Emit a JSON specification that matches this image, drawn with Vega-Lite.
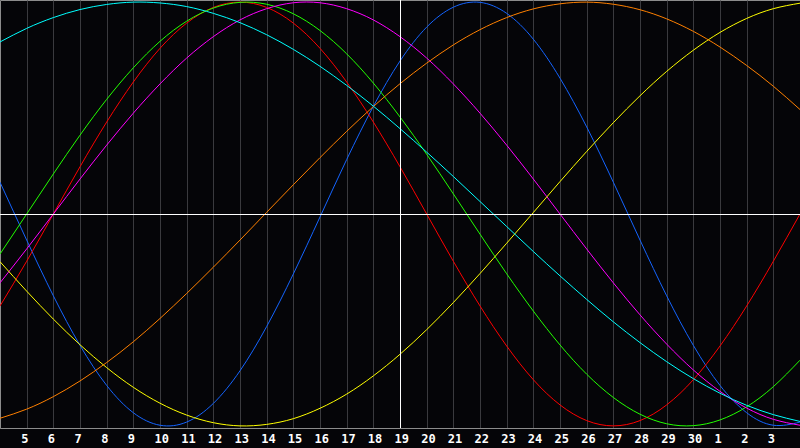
{
"$schema":"https://vega.github.io/schema/vega-lite/v6.json",
"width":800,"height":428,"autosize":"none","padding":{"left":0,"top":0,"right":0,"bottom":20},
"background":"#050508",
"config":{"view":{"stroke":"#8c8c8c","strokeWidth":1}},
"layer":[
{"data":{"values":[
{"t":0,"c":"phy","v":0.150},{"t":1,"c":"phy","v":-0.123},{"t":2,"c":"phy","v":-0.386},{"t":3,"c":"phy","v":-0.620},{"t":4,"c":"phy","v":-0.809},{"t":5,"c":"phy","v":-0.938},{"t":6,"c":"phy","v":-0.997},{"t":7,"c":"phy","v":-0.982},{"t":8,"c":"phy","v":-0.894},{"t":9,"c":"phy","v":-0.740},{"t":10,"c":"phy","v":-0.531},{"t":11,"c":"phy","v":-0.283},{"t":12,"c":"phy","v":-0.014},{"t":13,"c":"phy","v":0.257},{"t":14,"c":"phy","v":0.508},{"t":15,"c":"phy","v":0.722},{"t":16,"c":"phy","v":0.882},{"t":17,"c":"phy","v":0.976},{"t":18,"c":"phy","v":0.999},{"t":19,"c":"phy","v":0.947},{"t":20,"c":"phy","v":0.825},{"t":21,"c":"phy","v":0.641},{"t":22,"c":"phy","v":0.411},{"t":23,"c":"phy","v":0.150},{"t":24,"c":"phy","v":-0.123},{"t":25,"c":"phy","v":-0.386},{"t":26,"c":"phy","v":-0.620},{"t":27,"c":"phy","v":-0.809},{"t":28,"c":"phy","v":-0.938},{"t":29,"c":"phy","v":-0.997},{"t":30,"c":"phy","v":-0.982},
{"t":0,"c":"emo","v":-0.434},{"t":1,"c":"emo","v":-0.223},{"t":2,"c":"emo","v":0},{"t":3,"c":"emo","v":0.223},{"t":4,"c":"emo","v":0.434},{"t":5,"c":"emo","v":0.623},{"t":6,"c":"emo","v":0.782},{"t":7,"c":"emo","v":0.901},{"t":8,"c":"emo","v":0.975},{"t":9,"c":"emo","v":1},{"t":10,"c":"emo","v":0.975},{"t":11,"c":"emo","v":0.901},{"t":12,"c":"emo","v":0.782},{"t":13,"c":"emo","v":0.623},{"t":14,"c":"emo","v":0.434},{"t":15,"c":"emo","v":0.223},{"t":16,"c":"emo","v":0},{"t":17,"c":"emo","v":-0.223},{"t":18,"c":"emo","v":-0.434},{"t":19,"c":"emo","v":-0.623},{"t":20,"c":"emo","v":-0.782},{"t":21,"c":"emo","v":-0.901},{"t":22,"c":"emo","v":-0.975},{"t":23,"c":"emo","v":-1},{"t":24,"c":"emo","v":-0.975},{"t":25,"c":"emo","v":-0.901},{"t":26,"c":"emo","v":-0.782},{"t":27,"c":"emo","v":-0.623},{"t":28,"c":"emo","v":-0.434},{"t":29,"c":"emo","v":-0.223},{"t":30,"c":"emo","v":0},
{"t":0,"c":"int","v":-0.189},{"t":1,"c":"int","v":0},{"t":2,"c":"int","v":0.189},{"t":3,"c":"int","v":0.372},{"t":4,"c":"int","v":0.541},{"t":5,"c":"int","v":0.690},{"t":6,"c":"int","v":0.815},{"t":7,"c":"int","v":0.910},{"t":8,"c":"int","v":0.972},{"t":9,"c":"int","v":0.999},{"t":10,"c":"int","v":0.990},{"t":11,"c":"int","v":0.945},{"t":12,"c":"int","v":0.866},{"t":13,"c":"int","v":0.756},{"t":14,"c":"int","v":0.618},{"t":15,"c":"int","v":0.458},{"t":16,"c":"int","v":0.282},{"t":17,"c":"int","v":0.095},{"t":18,"c":"int","v":-0.095},{"t":19,"c":"int","v":-0.282},{"t":20,"c":"int","v":-0.458},{"t":21,"c":"int","v":-0.618},{"t":22,"c":"int","v":-0.756},{"t":23,"c":"int","v":-0.866},{"t":24,"c":"int","v":-0.945},{"t":25,"c":"int","v":-0.990},{"t":26,"c":"int","v":-0.999},{"t":27,"c":"int","v":-0.972},{"t":28,"c":"int","v":-0.910},{"t":29,"c":"int","v":-0.815},{"t":30,"c":"int","v":-0.690},
{"t":0,"c":"itu","v":-0.325},{"t":1,"c":"itu","v":-0.165},{"t":2,"c":"itu","v":0},{"t":3,"c":"itu","v":0.165},{"t":4,"c":"itu","v":0.325},{"t":5,"c":"itu","v":0.476},{"t":6,"c":"itu","v":0.614},{"t":7,"c":"itu","v":0.736},{"t":8,"c":"itu","v":0.837},{"t":9,"c":"itu","v":0.916},{"t":10,"c":"itu","v":0.969},{"t":11,"c":"itu","v":0.997},{"t":12,"c":"itu","v":0.997},{"t":13,"c":"itu","v":0.969},{"t":14,"c":"itu","v":0.916},{"t":15,"c":"itu","v":0.837},{"t":16,"c":"itu","v":0.736},{"t":17,"c":"itu","v":0.614},{"t":18,"c":"itu","v":0.476},{"t":19,"c":"itu","v":0.325},{"t":20,"c":"itu","v":0.165},{"t":21,"c":"itu","v":0},{"t":22,"c":"itu","v":-0.165},{"t":23,"c":"itu","v":-0.325},{"t":24,"c":"itu","v":-0.476},{"t":25,"c":"itu","v":-0.614},{"t":26,"c":"itu","v":-0.736},{"t":27,"c":"itu","v":-0.837},{"t":28,"c":"itu","v":-0.916},{"t":29,"c":"itu","v":-0.969},{"t":30,"c":"itu","v":-0.997},
{"t":0,"c":"aes","v":-0.225},{"t":1,"c":"aes","v":-0.364},{"t":2,"c":"aes","v":-0.496},{"t":3,"c":"aes","v":-0.617},{"t":4,"c":"aes","v":-0.725},{"t":5,"c":"aes","v":-0.818},{"t":6,"c":"aes","v":-0.893},{"t":7,"c":"aes","v":-0.949},{"t":8,"c":"aes","v":-0.985},{"t":9,"c":"aes","v":-1.000},{"t":10,"c":"aes","v":-0.993},{"t":11,"c":"aes","v":-0.966},{"t":12,"c":"aes","v":-0.917},{"t":13,"c":"aes","v":-0.850},{"t":14,"c":"aes","v":-0.764},{"t":15,"c":"aes","v":-0.662},{"t":16,"c":"aes","v":-0.546},{"t":17,"c":"aes","v":-0.418},{"t":18,"c":"aes","v":-0.281},{"t":19,"c":"aes","v":-0.138},{"t":20,"c":"aes","v":0.007},{"t":21,"c":"aes","v":0.153},{"t":22,"c":"aes","v":0.295},{"t":23,"c":"aes","v":0.431},{"t":24,"c":"aes","v":0.558},{"t":25,"c":"aes","v":0.673},{"t":26,"c":"aes","v":0.773},{"t":27,"c":"aes","v":0.857},{"t":28,"c":"aes","v":0.923},{"t":29,"c":"aes","v":0.969},{"t":30,"c":"aes","v":0.995},
{"t":0,"c":"awa","v":-0.964},{"t":1,"c":"awa","v":-0.921},{"t":2,"c":"awa","v":-0.862},{"t":3,"c":"awa","v":-0.788},{"t":4,"c":"awa","v":-0.701},{"t":5,"c":"awa","v":-0.603},{"t":6,"c":"awa","v":-0.493},{"t":7,"c":"awa","v":-0.375},{"t":8,"c":"awa","v":-0.251},{"t":9,"c":"awa","v":-0.123},{"t":10,"c":"awa","v":0.008},{"t":11,"c":"awa","v":0.138},{"t":12,"c":"awa","v":0.266},{"t":13,"c":"awa","v":0.390},{"t":14,"c":"awa","v":0.507},{"t":15,"c":"awa","v":0.615},{"t":16,"c":"awa","v":0.712},{"t":17,"c":"awa","v":0.798},{"t":18,"c":"awa","v":0.870},{"t":19,"c":"awa","v":0.927},{"t":20,"c":"awa","v":0.968},{"t":21,"c":"awa","v":0.992},{"t":22,"c":"awa","v":1.000},{"t":23,"c":"awa","v":0.990},{"t":24,"c":"awa","v":0.964},{"t":25,"c":"awa","v":0.921},{"t":26,"c":"awa","v":0.862},{"t":27,"c":"awa","v":0.788},{"t":28,"c":"awa","v":0.701},{"t":29,"c":"awa","v":0.603},{"t":30,"c":"awa","v":0.493},
{"t":0,"c":"spi","v":0.812},{"t":1,"c":"spi","v":0.876},{"t":2,"c":"spi","v":0.927},{"t":3,"c":"spi","v":0.965},{"t":4,"c":"spi","v":0.989},{"t":5,"c":"spi","v":1.000},{"t":6,"c":"spi","v":0.996},{"t":7,"c":"spi","v":0.979},{"t":8,"c":"spi","v":0.947},{"t":9,"c":"spi","v":0.903},{"t":10,"c":"spi","v":0.846},{"t":11,"c":"spi","v":0.777},{"t":12,"c":"spi","v":0.697},{"t":13,"c":"spi","v":0.607},{"t":14,"c":"spi","v":0.509},{"t":15,"c":"spi","v":0.403},{"t":16,"c":"spi","v":0.292},{"t":17,"c":"spi","v":0.177},{"t":18,"c":"spi","v":0.059},{"t":19,"c":"spi","v":-0.059},{"t":20,"c":"spi","v":-0.177},{"t":21,"c":"spi","v":-0.292},{"t":22,"c":"spi","v":-0.403},{"t":23,"c":"spi","v":-0.509},{"t":24,"c":"spi","v":-0.607},{"t":25,"c":"spi","v":-0.697},{"t":26,"c":"spi","v":-0.777},{"t":27,"c":"spi","v":-0.846},{"t":28,"c":"spi","v":-0.903},{"t":29,"c":"spi","v":-0.947},{"t":30,"c":"spi","v":-0.979}
]},
"mark":{"type":"line","strokeWidth":1,"interpolate":"natural","clip":true},
"encoding":{
"x":{"field":"t","type":"quantitative","scale":{"domain":[0,30],"nice":false,"zero":false},
 "axis":{"values":[1,2,3,4,5,6,7,8,9,10,11,12,13,14,15,16,17,18,19,20,21,22,23,24,25,26,27,28,29],"tickCount":30,"title":null,"grid":true,"gridColor":"#3a3a3e","gridWidth":1,"ticks":false,"domain":true,"domainColor":"#8c8c8c","labelColor":"#ffffff","labelFont":"DejaVu Sans Mono","labelFontWeight":"bold","labelFontSize":12,"labelPadding":5,"labelOffset":-6,"labelAlign":"left","labelFlush":false,"labelOverlap":false,"labelExpr":"datum.value <= 26 ? datum.value + 4 : datum.value - 26"}},
"y":{"field":"v","type":"quantitative","scale":{"domain":[-1.01,1.01],"nice":false,"zero":false},"axis":null},
"color":{"field":"c","type":"nominal","legend":null,"scale":{"domain":["phy","emo","int","itu","aes","awa","spi"],"range":["#1464ff","#ff0000","#22ff00","#ff00ff","#ffff00","#ff8000","#00ffff"]}}
}},
{"data":{"values":[{"v":0}]},"mark":{"type":"rule","color":"#ffffff","strokeWidth":1,"yOffset":0.5},
"encoding":{"y":{"field":"v","type":"quantitative","scale":{"domain":[-1.01,1.01],"nice":false,"zero":false}}}},
{"data":{"values":[{"t":15}]},"mark":{"type":"rule","color":"#ffffff","strokeWidth":1,"xOffset":0.5},
"encoding":{"x":{"field":"t","type":"quantitative","scale":{"domain":[0,30],"nice":false,"zero":false}}}}
]
}
